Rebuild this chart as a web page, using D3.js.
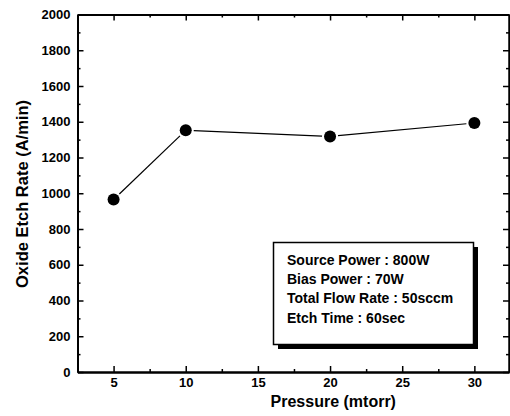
<!DOCTYPE html>
<html>
<head>
<meta charset="utf-8">
<script src="https://cdn.jsdelivr.net/npm/d3@7"></script>
<style>
  html, body { margin: 0; padding: 0; background: #fff; }
  svg { display: block; font-family: "Liberation Sans", Arial, sans-serif; font-weight: bold; }
</style>
</head>
<body>
<svg id="chart" width="510" height="416"></svg>
<script>
// ---- data ----
const pressure = [5, 10, 20, 30];
const etchRate = [965, 1352, 1318, 1393];
const xTicks = [5, 10, 15, 20, 25, 30];
const xMinor = [2.5, 7.5, 12.5, 17.5, 22.5, 27.5, 32.5];
const yTicks = [0, 200, 400, 600, 800, 1000, 1200, 1400, 1600, 1800, 2000];
const yMinor = [100, 300, 500, 700, 900, 1100, 1300, 1500, 1700, 1900];
const legendLines = ["Source Power : 800W", "Bias Power : 70W", "Total Flow Rate : 50sccm", "Etch Time : 60sec"];
const xTitle = "Pressure (mtorr)";
const yTitle = "Oxide Etch Rate (A/min)";

// ---- layout ----
const L = 77.5, R = 509, T = 14.5, B = 372;
const svg = d3.select("#chart");
const x = d3.scaleLinear().domain([2.5, 32.4]).range([L, R]);
const y = d3.scaleLinear().domain([0, 2000]).range([B, T]);

function styleAxis(g) {
  g.selectAll("path.domain").attr("stroke", "#000").attr("stroke-width", 2);
  g.selectAll(".tick line").attr("stroke", "#000").attr("stroke-width", 1.5);
  g.selectAll(".tick text").attr("fill", "#000").attr("font-size", 13).attr("font-weight", "bold")
    .attr("font-family", "'Liberation Sans', Arial, sans-serif");
}

// bottom axis
svg.append("g").attr("transform", `translate(0,${B})`)
  .call(d3.axisBottom(x).tickValues(xMinor).tickSize(-3).tickSizeOuter(0).tickFormat(""))
  .call(styleAxis);
svg.append("g").attr("transform", `translate(0,${B})`)
  .call(d3.axisBottom(x).tickValues(xTicks).tickSize(-6).tickSizeOuter(0).tickPadding(6).tickFormat(d3.format("d")))
  .call(styleAxis);
// top axis
svg.append("g").attr("transform", `translate(0,${T})`)
  .call(d3.axisTop(x).tickValues(xMinor).tickSize(-3).tickSizeOuter(0).tickFormat(""))
  .call(styleAxis);
svg.append("g").attr("transform", `translate(0,${T})`)
  .call(d3.axisTop(x).tickValues(xTicks).tickSize(-6).tickSizeOuter(0).tickFormat(""))
  .call(styleAxis);
// left axis
svg.append("g").attr("transform", `translate(${L},0)`)
  .call(d3.axisLeft(y).tickValues(yMinor).tickSize(-3).tickSizeOuter(0).tickFormat(""))
  .call(styleAxis);
svg.append("g").attr("transform", `translate(${L},0)`)
  .call(d3.axisLeft(y).tickValues(yTicks).tickSize(-6).tickSizeOuter(0).tickPadding(7).tickFormat(d3.format("d")))
  .call(styleAxis);
// right axis
svg.append("g").attr("transform", `translate(${R},0)`)
  .call(d3.axisRight(y).tickValues(yMinor).tickSize(-3).tickSizeOuter(0).tickFormat(""))
  .call(styleAxis);
svg.append("g").attr("transform", `translate(${R},0)`)
  .call(d3.axisRight(y).tickValues(yTicks).tickSize(-6).tickSizeOuter(0).tickFormat(""))
  .call(styleAxis);

// axis titles
svg.append("text").attr("x", (L + R) / 2 + 40).attr("y", 407).attr("text-anchor", "middle")
  .attr("font-size", 16).attr("font-weight", "bold").text(xTitle);
svg.append("text").attr("transform", `translate(28,194) rotate(-90)`).attr("text-anchor", "middle")
  .attr("font-size", 16.5).attr("font-weight", "bold").text(yTitle);

// data line with gaps around markers
const r = 6, gap = 2;
const pts = pressure.map((p, i) => [x(p), y(etchRate[i])]);
for (let i = 0; i < pts.length - 1; i++) {
  const [x1, y1] = pts[i], [x2, y2] = pts[i + 1];
  const dx = x2 - x1, dy = y2 - y1, len = Math.hypot(dx, dy);
  const ux = dx / len, uy = dy / len, s = r + gap;
  svg.append("line")
    .attr("x1", x1 + ux * s).attr("y1", y1 + uy * s)
    .attr("x2", x2 - ux * s).attr("y2", y2 - uy * s)
    .attr("stroke", "#000").attr("stroke-width", 1.2);
}
svg.append("g").selectAll("circle").data(pressure).join("circle")
  .attr("cx", d => x(d)).attr("cy", (d, i) => y(etchRate[i])).attr("r", r).attr("fill", "#000");

// legend box with shadow
const bx = 273.5, by = 242.5, bw = 200, bh = 102, sh = 4.5;
svg.append("rect").attr("x", bx + sh).attr("y", by + sh).attr("width", bw).attr("height", bh).attr("fill", "#000");
svg.append("rect").attr("x", bx).attr("y", by).attr("width", bw).attr("height", bh)
  .attr("fill", "#fff").attr("stroke", "#000").attr("stroke-width", 1.5);
svg.append("g").selectAll("text").data(legendLines).join("text")
  .attr("x", 287).attr("y", (d, i) => 265 + i * 19.2)
  .attr("font-size", 14).attr("font-weight", "bold").text(d => d);
</script>
</body>
</html>
